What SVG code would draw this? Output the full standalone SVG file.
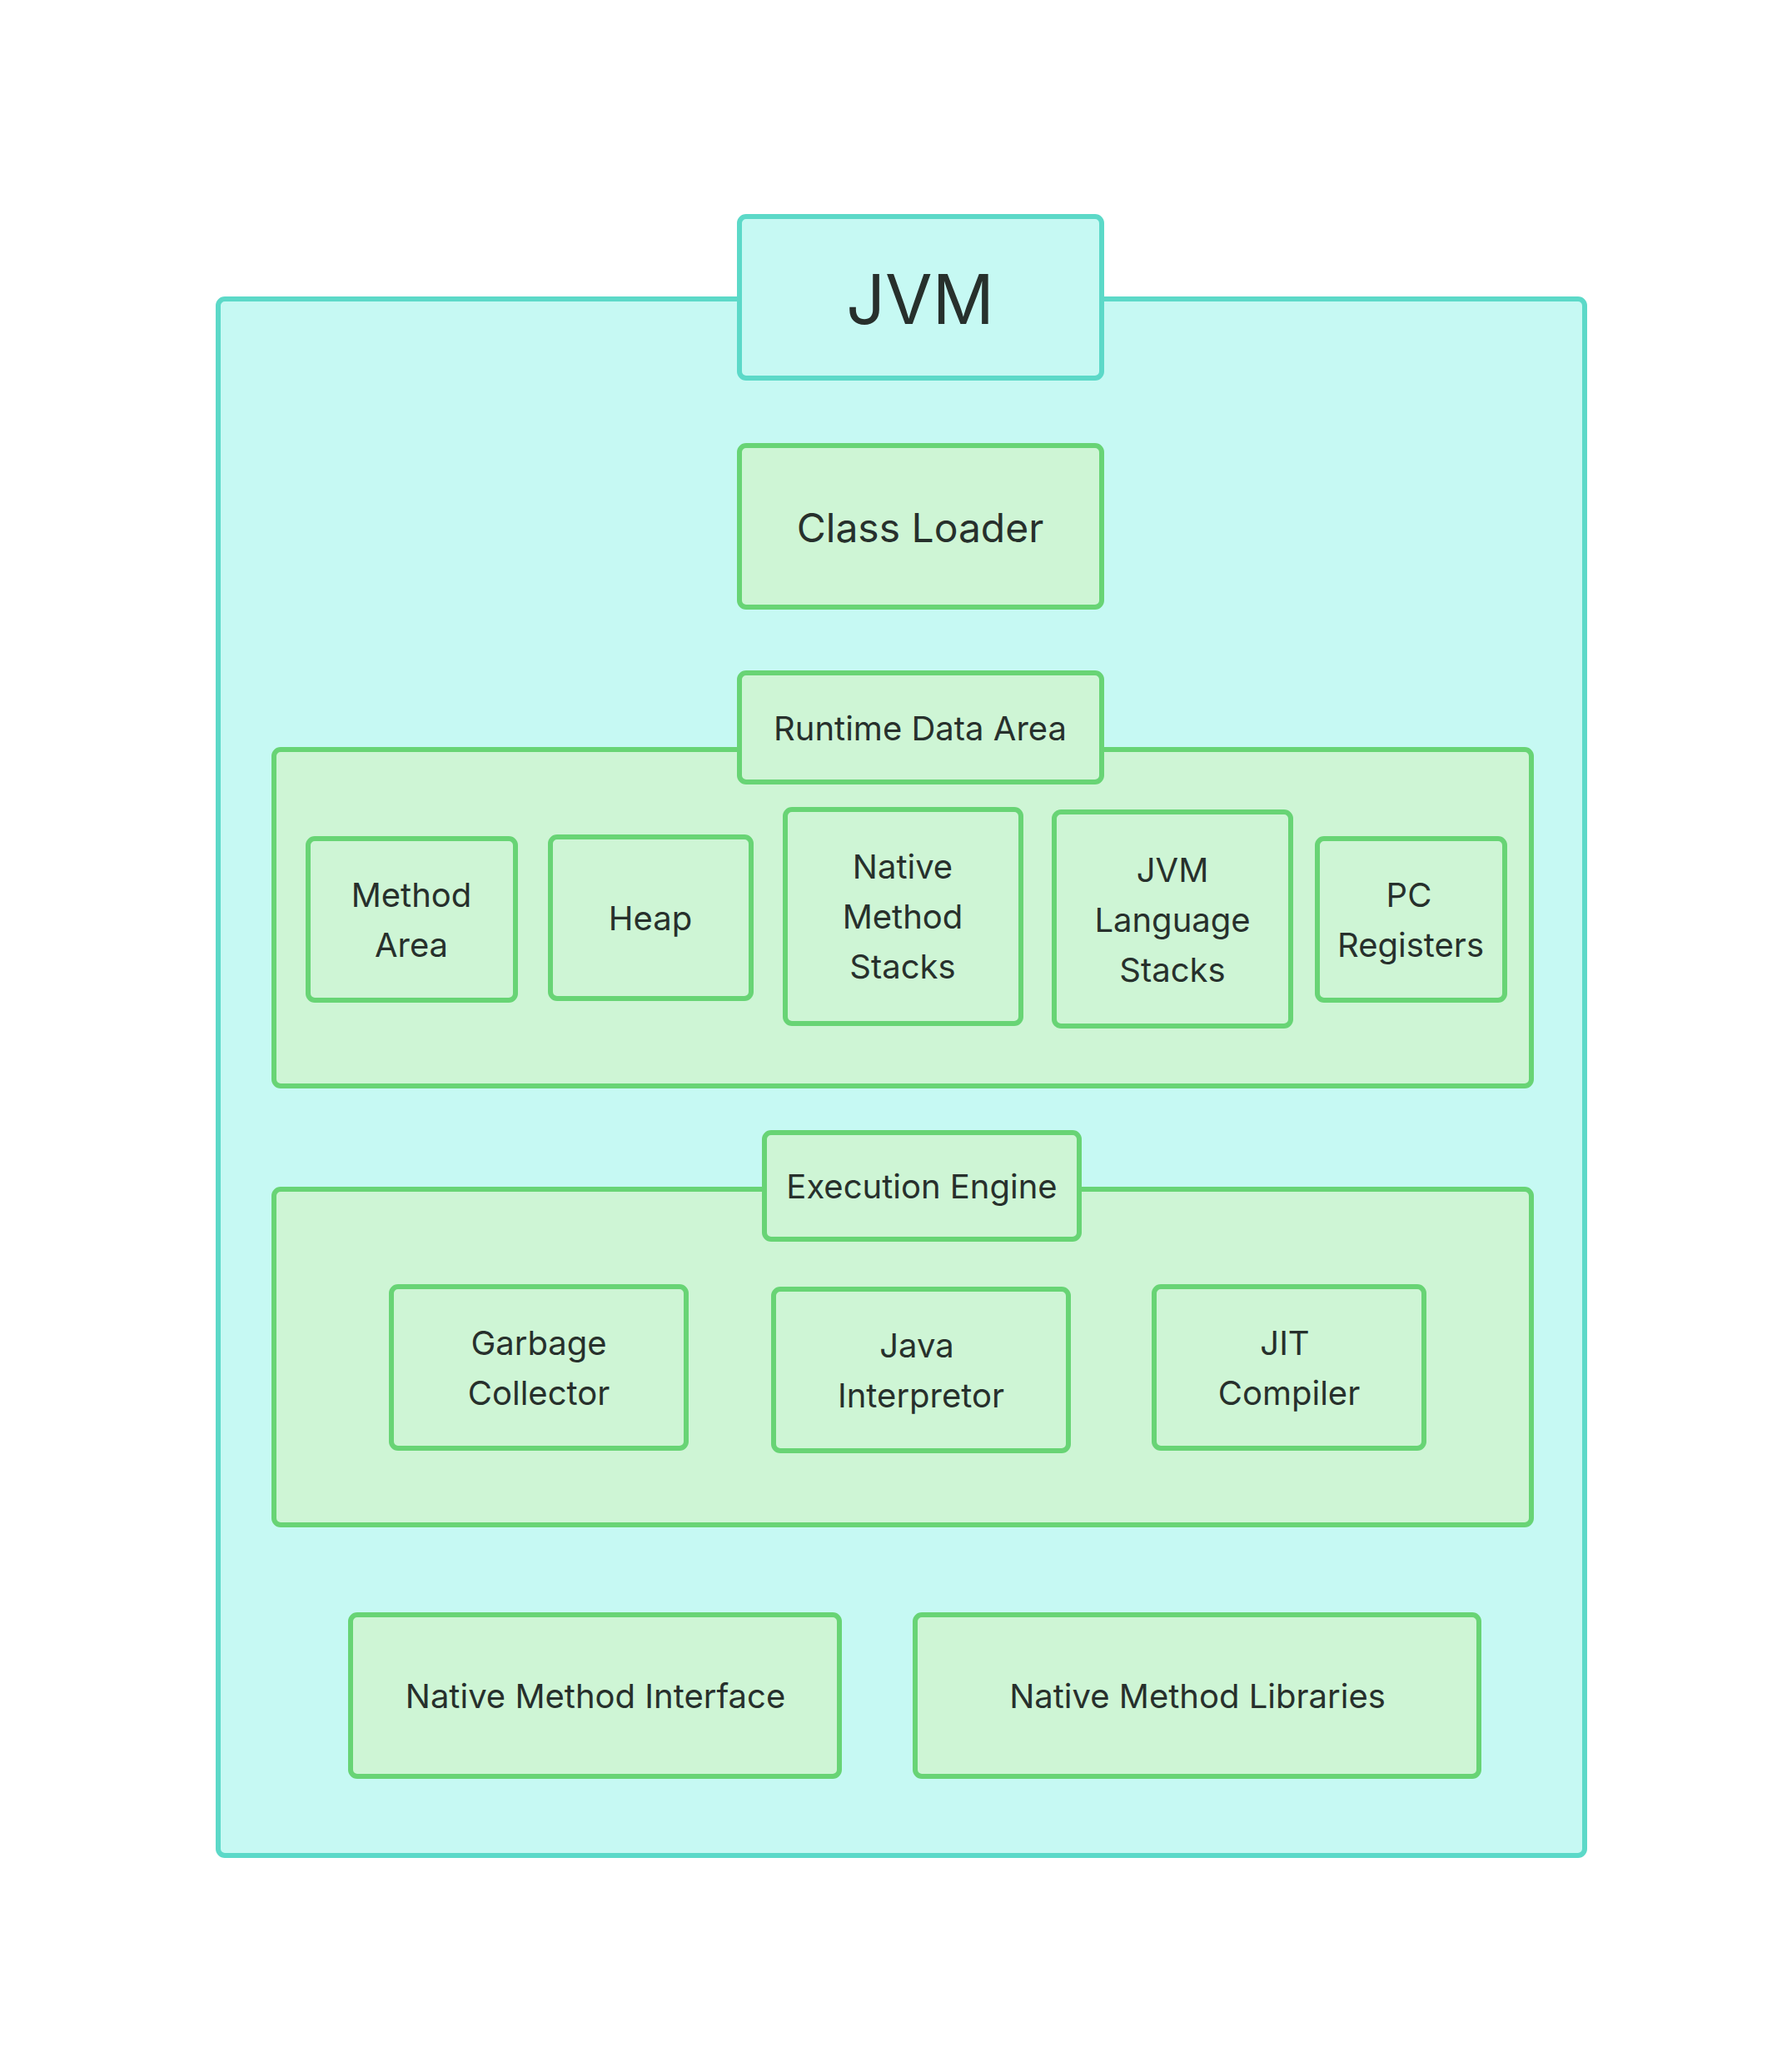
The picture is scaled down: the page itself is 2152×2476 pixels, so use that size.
<svg xmlns="http://www.w3.org/2000/svg" width="2152" height="2476" viewBox="0 0 2152 2476">
<style>
.t{fill:#C6F9F3;stroke:#5CD9C8;stroke-width:6}
.g{fill:#CEF5D5;stroke:#68D475;stroke-width:6}
text{font-family:Inter,"Noto Sans",sans-serif;fill:#27302C;text-anchor:middle;dominant-baseline:central;font-size:40px}
</style>
<rect width="2152" height="2476" fill="#ffffff"/>
<g id="jvm-container"><rect class="t" x="262" y="359" width="1641" height="1869" rx="8"/></g>
<g id="jvm"><rect class="t" x="888" y="260" width="435" height="194" rx="8"/><text x="1105" y="359" style="font-size:82px">JVM</text></g>
<g id="class-loader"><rect class="g" x="888" y="535" width="435" height="194" rx="8"/><text x="1105" y="633" style="font-size:48px">Class Loader</text></g>
<g id="rda-container"><rect class="g" x="329" y="900" width="1510" height="404" rx="8"/></g>
<g id="rda"><rect class="g" x="888" y="808" width="435" height="131" rx="8"/><text x="1105" y="874">Runtime Data Area</text></g>
<g id="method-area"><rect class="g" x="370" y="1007" width="249" height="194" rx="8"/><text x="494" y="1074">Method</text><text x="494" y="1134">Area</text></g>
<g id="heap"><rect class="g" x="661" y="1005" width="241" height="194" rx="8"/><text x="781" y="1102">Heap</text></g>
<g id="nms"><rect class="g" x="943" y="972" width="283" height="257" rx="8"/><text x="1084" y="1040">Native</text><text x="1084" y="1100">Method</text><text x="1084" y="1160">Stacks</text></g>
<g id="jls"><rect class="g" x="1266" y="975" width="284" height="257" rx="8"/><text x="1408" y="1044">JVM</text><text x="1408" y="1104">Language</text><text x="1408" y="1164">Stacks</text></g>
<g id="pc"><rect class="g" x="1582" y="1007" width="225" height="194" rx="8"/><text x="1692" y="1074">PC</text><text x="1694" y="1134">Registers</text></g>
<g id="ee-container"><rect class="g" x="329" y="1428" width="1510" height="403" rx="8"/></g>
<g id="ee"><rect class="g" x="918" y="1360" width="378" height="128" rx="8"/><text x="1107" y="1424">Execution Engine</text></g>
<g id="gc"><rect class="g" x="470" y="1545" width="354" height="194" rx="8"/><text x="647" y="1612">Garbage</text><text x="647" y="1672">Collector</text></g>
<g id="ji"><rect class="g" x="929" y="1548" width="354" height="194" rx="8"/><text x="1101" y="1615">Java</text><text x="1106" y="1675">Interpretor</text></g>
<g id="jit"><rect class="g" x="1386" y="1545" width="324" height="194" rx="8"/><text x="1543" y="1612">JIT</text><text x="1548" y="1672">Compiler</text></g>
<g id="nmi"><rect class="g" x="421" y="1939" width="587" height="194" rx="8"/><text x="715" y="2036">Native Method Interface</text></g>
<g id="nml"><rect class="g" x="1099" y="1939" width="677" height="194" rx="8"/><text x="1438" y="2036">Native Method Libraries</text></g>
<g id="connectors"></g>
</svg>
